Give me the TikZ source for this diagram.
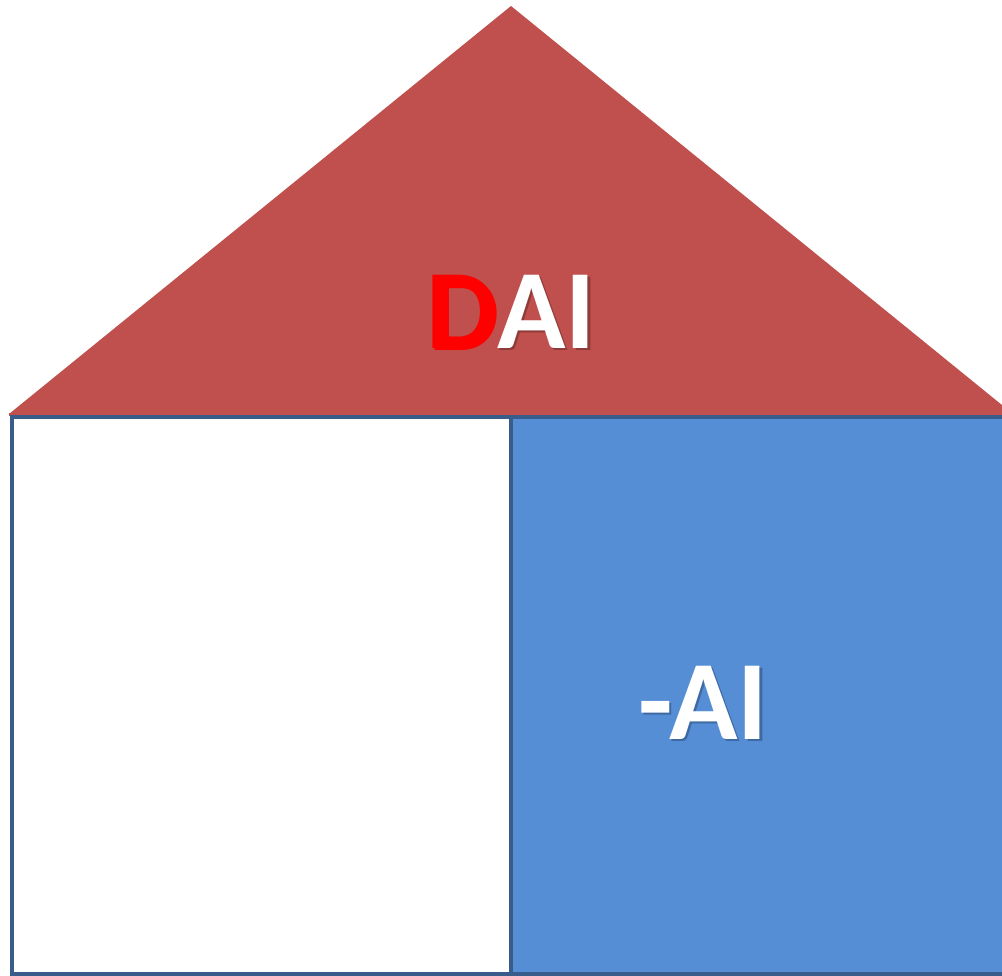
\documentclass[tikz,border=0pt]{standalone}
\usepackage{fontspec}
\setmainfont{Carlito}
\definecolor{roofred}{HTML}{C0504D}
\definecolor{roofshadow}{HTML}{8E3B39}
\definecolor{wallblue}{HTML}{558ED5}
\definecolor{wallshadow}{HTML}{3E6AA3}
\definecolor{edgeblue}{HTML}{385D8A}
\newcommand{\shadowed}[2]{\makebox[0pt][l]{\kern2.5pt\raisebox{-2.5pt}{\textcolor{#1}{#2}}}#2}
\tikzset{
  lbl/.style={font=\bfseries\fontsize{113}{113}\selectfont, inner sep=0pt, anchor=center, text=white},
}
\begin{document}
\begin{tikzpicture}[x=1pt,y=-1pt]
\useasboundingbox (0,0) rectangle (1002,976);
% roof
\fill[roofred] (9,414) -- (511,6) -- (1013,414) -- cycle;
\fill[roofred] (9,413) rectangle (1013,416);
% walls
\draw[edgeblue, line width=4pt, fill=white] (12,417) rectangle (511,974);
\draw[edgeblue, line width=4pt, fill=wallblue] (511,417) rectangle (1014,974);
% labels
\node[lbl] (dai) at (511,313) {\shadowed{roofshadow}{\textcolor{red}{D}AI}};
\node[lbl] (ai) at (703,704) {\shadowed{wallshadow}{-AI}};
\end{tikzpicture}
\end{document}
